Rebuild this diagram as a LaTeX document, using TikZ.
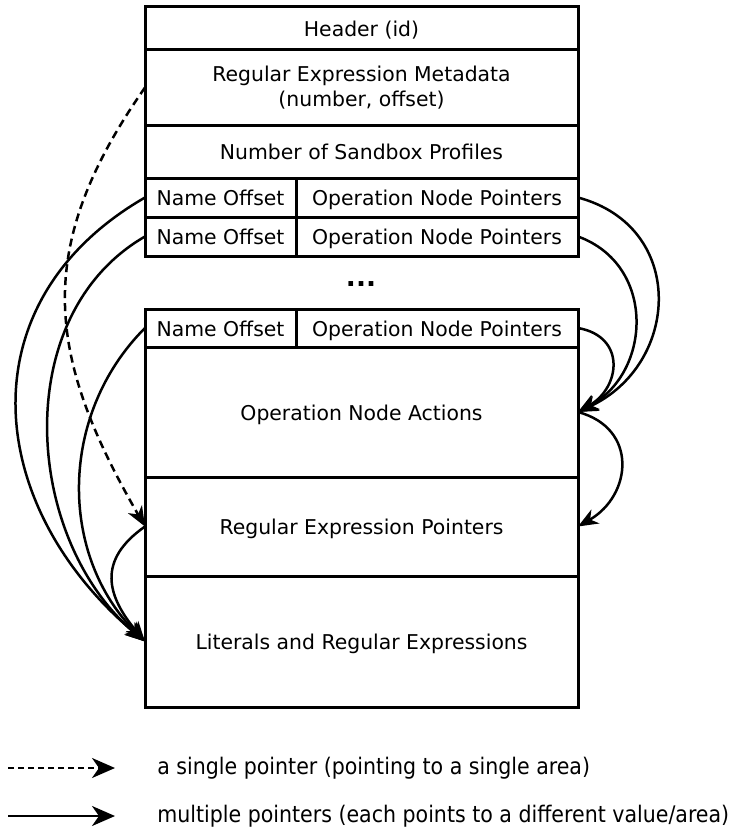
\documentclass[tikz,border=0pt]{standalone}
\usepackage{fontspec}
\setmainfont{DejaVu Sans}
\newfontfamily\condensed{DejaVu Sans Condensed}
\usetikzlibrary{arrows.meta}
\tikzset{
  cell/.style={draw, line width=0.6mm, inner sep=0pt, outer sep=0pt, align=center, font=\fontsize{11.6}{14}\selectfont},
  row/.style={cell, text height=0.92em, text depth=0pt},
  ptr/.style={line width=0.5mm, -{Stealth[length=4mm, width=3.2mm, inset=1.2mm]}},
  single/.style={ptr, dash pattern=on 1.6mm off 1mm},
  legptr/.style={line width=0.5mm, -{Stealth[length=4.6mm, width=4mm, inset=1.4mm]}},
  legtext/.style={anchor=west, inner sep=0pt, font=\condensed\fontsize{13}{15}\selectfont}
}

\begin{document}
\begin{tikzpicture}
  \useasboundingbox (0,0) rectangle (14.68,-16.6);

  \node[row, minimum width=8.66cm, minimum height=0.86cm] (hdr) at (7.23,-0.57) {Header (id)};
  \node[cell, minimum width=8.66cm, minimum height=1.5cm] (meta) at (7.23,-1.75) {Regular Expression Metadata\\(number, offset)};
  \node[row, minimum width=8.66cm, minimum height=1.06cm] (nprof) at (7.23,-3.03) {Number of Sandbox Profiles};

  \node[row, minimum width=3.02cm, minimum height=0.78cm] (nameA) at (4.41,-3.95) {Name Offset};
  \node[row, minimum width=5.64cm, minimum height=0.78cm] (opsA) at (8.74,-3.95) {Operation Node Pointers};
  \node[row, minimum width=3.02cm, minimum height=0.78cm] (nameB) at (4.41,-4.73) {Name Offset};
  \node[row, minimum width=5.64cm, minimum height=0.78cm] (opsB) at (8.74,-4.73) {Operation Node Pointers};

  \node[font=\fontsize{15}{16}\selectfont\bfseries] (dots) at (7.22,-5.68) {...};

  \node[row, minimum width=3.02cm, minimum height=0.76cm] (nameC) at (4.41,-6.56) {Name Offset};
  \node[row, minimum width=5.64cm, minimum height=0.76cm] (opsC) at (8.74,-6.56) {Operation Node Pointers};
  \node[row, minimum width=8.66cm, minimum height=2.6cm] (actions) at (7.23,-8.24) {Operation Node Actions};
  \node[row, minimum width=8.66cm, minimum height=1.98cm] (rxptr) at (7.23,-10.53) {Regular Expression Pointers};
  \node[row, minimum width=8.66cm, minimum height=2.62cm] (lits) at (7.23,-12.83) {Literals and Regular Expressions};

  \draw[single] (meta.west) to[out=235, in=120, looseness=1.15] (rxptr.west);
  \draw[ptr] (nameA.west) to[out=210, in=140, looseness=1.21] (lits.west);
  \draw[ptr] (nameB.west) to[out=210, in=140, looseness=1.0] (lits.west);
  \draw[ptr] (nameC.west) to[out=225, in=135, looseness=1.0] (lits.west);
  \draw[ptr] (rxptr.west) to[out=215, in=130, looseness=1.32] (lits.west);

  \draw[ptr] (opsA.east) to[out=-15, in=25, looseness=1.35] (actions.east);
  \draw[ptr] (opsB.east) to[out=-20, in=28, looseness=1.22] (actions.east);
  \draw[ptr] (opsC.east) to[out=-10, in=30, looseness=1.5] (actions.east);
  \draw[ptr] (actions.east) to[out=-15, in=30, looseness=1.4] (rxptr.east);

  \coordinate (dashA) at (0.16,-15.36);
  \coordinate (dashB) at (2.3,-15.36);
  \coordinate (lineA) at (0.16,-16.32);
  \coordinate (lineB) at (2.3,-16.32);
  \draw[legptr, dash pattern=on 1.2mm off 0.8mm] (dashA) -- (dashB);
  \draw[legptr] (lineA) -- (lineB);
  \node[legtext] (single) at (3.14,-15.36) {a single pointer (pointing to a single area)};
  \node[legtext] (multi) at (3.14,-16.32) {multiple pointers (each points to a different value/area)};

\end{tikzpicture}
\end{document}
